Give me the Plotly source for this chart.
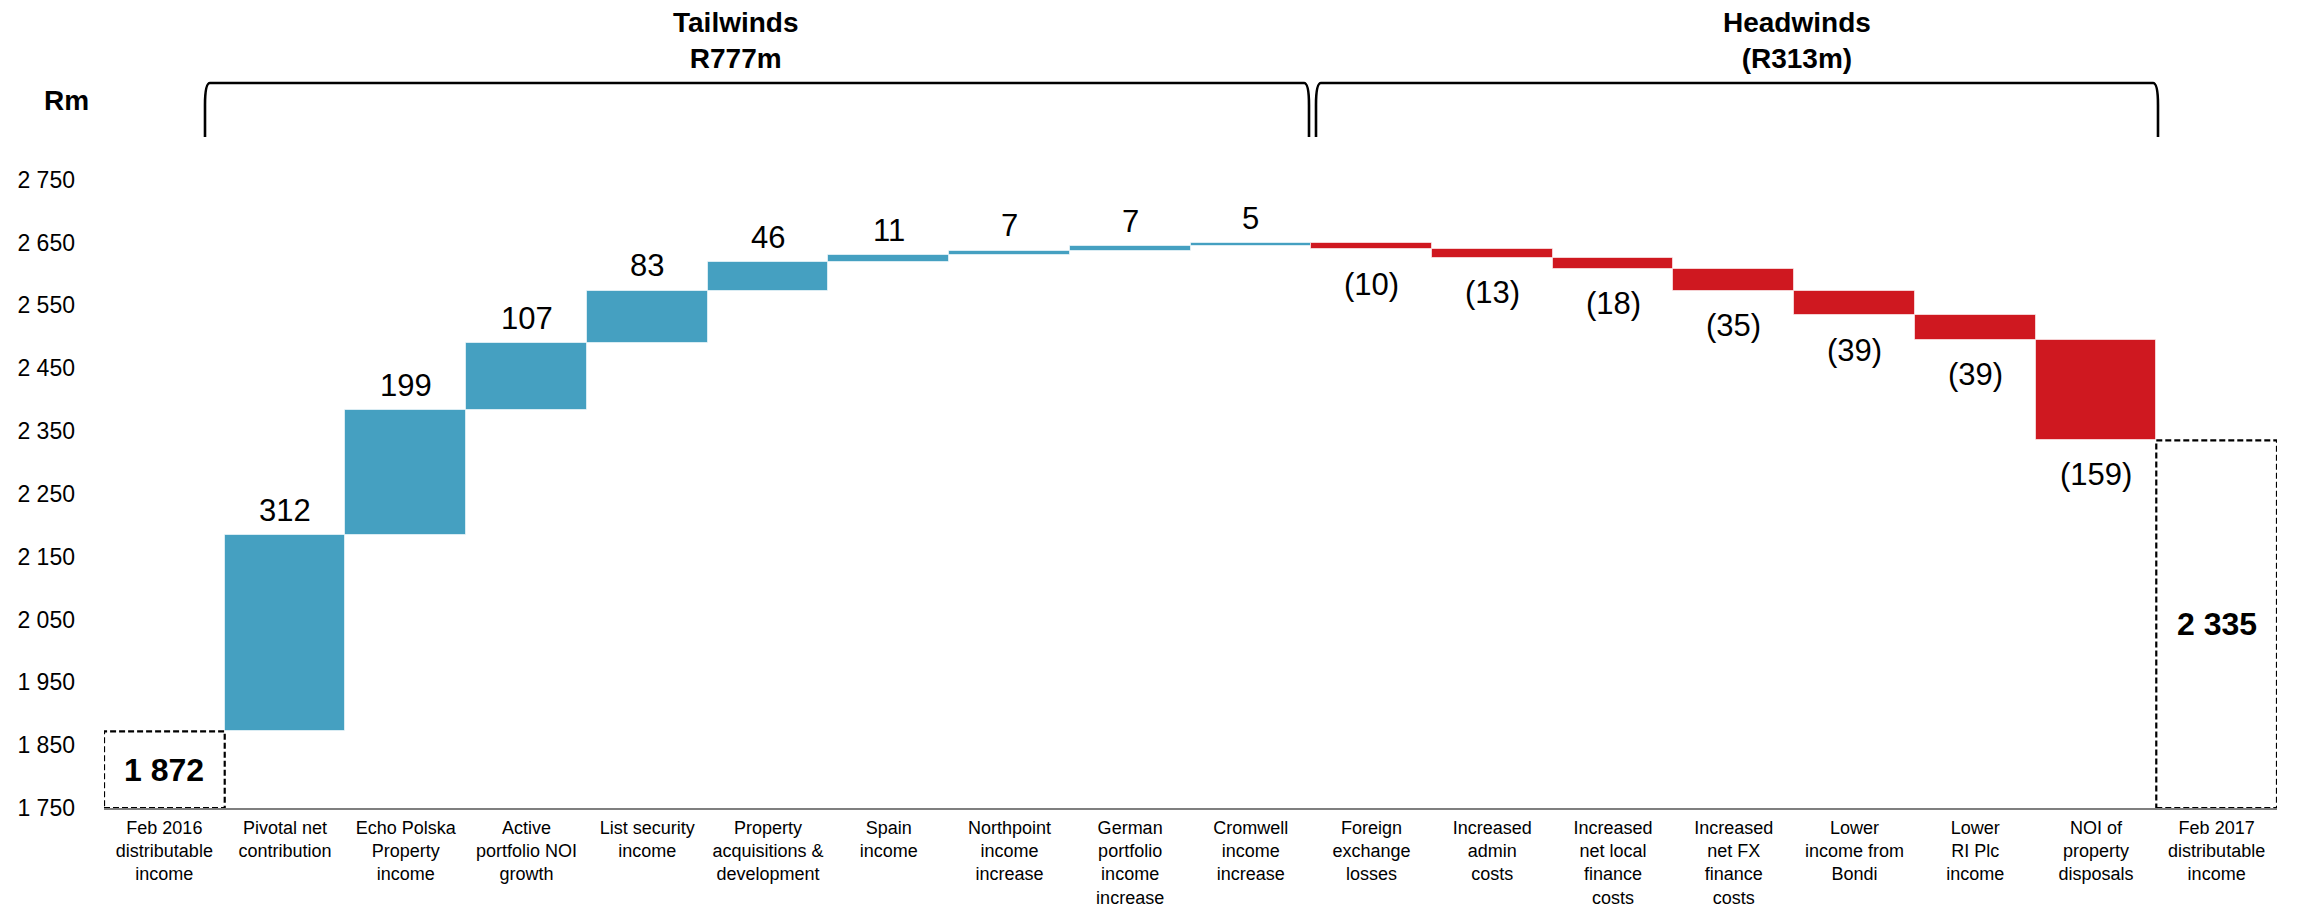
import plotly.graph_objects as go

# ---- data -------------------------------------------------------------
categories = [
    "Feb 2016<br>distributable<br>income",
    "Pivotal net<br>contribution",
    "Echo Polska<br>Property<br>income",
    "Active<br>portfolio NOI<br>growth",
    "List security<br>income",
    "Property<br>acquisitions &<br>development",
    "Spain<br>income",
    "Northpoint<br>income<br>increase",
    "German<br>portfolio<br>income<br>increase",
    "Cromwell<br>income<br>increase",
    "Foreign<br>exchange<br>losses",
    "Increased<br>admin<br>costs",
    "Increased<br>net local<br>finance<br>costs",
    "Increased<br>net FX<br>finance<br>costs",
    "Lower<br>income from<br>Bondi",
    "Lower<br>RI Plc<br>income",
    "NOI of<br>property<br>disposals",
    "Feb 2017<br>distributable<br>income",
]
start_value = 1872
end_value = 2335
changes = [312, 199, 107, 83, 46, 11, 7, 7, 5,
           -10, -13, -18, -35, -39, -39, -159]
y_ticks = [1750, 1850, 1950, 2050, 2150, 2250, 2350, 2450, 2550, 2650, 2750]

# ---- styling ----------------------------------------------------------
BLUE = "#45A0C1"
RED = "#CF1820"
FONT = "Liberation Sans, Arial, Helvetica, sans-serif"
W, H = 2298, 912
ML, MR, MT, MB = 104, 21, 0, 104
Y_MIN, Y_MAX = 1750, 3036


def fmt(v):
    return f"{v:,}".replace(",", " ")


def px_x(p):
    return (p - ML) / (W - ML - MR)


def px_y(p):
    return (H - MB - p) / (H - MT - MB)


# ---- floating bars ----------------------------------------------------
xs, bases, heights, colors = [], [], [], []
level = start_value
for i, c in enumerate(changes, start=1):
    xs.append(i)
    if c >= 0:
        bases.append(level)
        heights.append(c)
        colors.append(BLUE)
    else:
        bases.append(level + c)
        heights.append(-c)
        colors.append(RED)
    level += c

fig = go.Figure()
fig.add_trace(go.Bar(
    x=xs, y=heights, base=bases, width=1.0,
    marker=dict(color=colors, line=dict(color="rgba(255,255,255,0.6)", width=1)),
    hoverinfo="skip",
))

annotations = []
for x, b, h, c in zip(xs, bases, heights, changes):
    if c >= 0:
        annotations.append(dict(x=x, y=b + h, yshift=25, text=str(c)))
    else:
        annotations.append(dict(x=x, y=b, yshift=-35, text=f"({-c})"))
for a in annotations:
    a.update(xref="x", yref="y", showarrow=False, xanchor="center", yanchor="middle",
             font=dict(family=FONT, size=31, color="#000"))

# ---- dashed total boxes -----------------------------------------------
for idx, val in [(0, start_value), (len(categories) - 1, end_value)]:
    fig.add_trace(go.Scatter(
        x=[idx - 0.5, idx + 0.5, idx + 0.5, idx - 0.5, idx - 0.5],
        y=[Y_MIN, Y_MIN, val, val, Y_MIN],
        mode="lines", cliponaxis=False, hoverinfo="skip",
        line=dict(color="#000", width=2.2, dash="6px,3px"),
    ))
    annotations.append(dict(
        x=idx, y=(Y_MIN + val) / 2, xref="x", yref="y", showarrow=False,
        xanchor="center", yanchor="middle",
        text=f"<b>{fmt(val)}</b>", font=dict(family=FONT, size=32, color="#000"),
    ))

# ---- group brackets and headings --------------------------------------
tail_total = sum(c for c in changes if c > 0)
head_total = -sum(c for c in changes if c < 0)


def bracket(xa, xb, ytop=83, ybot=137, r=5, curve=22):
    p = (
        f"M {px_x(xa)},{px_y(ybot)} L {px_x(xa)},{px_y(ytop + curve)} "
        f"Q {px_x(xa)},{px_y(ytop)} {px_x(xa + r)},{px_y(ytop)} "
        f"L {px_x(xb - r)},{px_y(ytop)} "
        f"Q {px_x(xb)},{px_y(ytop)} {px_x(xb)},{px_y(ytop + curve)} "
        f"L {px_x(xb)},{px_y(ybot)}"
    )
    return dict(type="path", path=p, xref="paper", yref="paper",
                line=dict(color="#000", width=2.6))


shapes = [bracket(205, 1309), bracket(1316, 2158)]

for cx, text in [(736, f"<b>Tailwinds</b><br><b>R{tail_total}m</b>"),
                 (1797, f"<b>Headwinds</b><br><b>(R{head_total}m)</b>")]:
    annotations.append(dict(
        x=px_x(cx), y=px_y(40), xref="paper", yref="paper", showarrow=False,
        xanchor="center", yanchor="middle", text=text,
        font=dict(family=FONT, size=28, color="#000"),
    ))
annotations.append(dict(
    x=px_x(66), y=px_y(100), xref="paper", yref="paper", showarrow=False,
    xanchor="center", yanchor="middle",
    text="<b>Rm</b>", font=dict(family=FONT, size=28, color="#000"),
))

fig.update_layout(
    width=W, height=H,
    margin=dict(l=ML, r=MR, t=MT, b=MB),
    paper_bgcolor="white", plot_bgcolor="white",
    showlegend=False, bargap=0,
    font=dict(family=FONT, color="#000"),
    shapes=shapes, annotations=annotations,
    xaxis=dict(
        range=[-0.5, len(categories) - 0.5], automargin=False,
        tickmode="array", tickvals=list(range(len(categories))), ticktext=categories,
        tickfont=dict(family=FONT, size=18, color="#000"),
        showline=True, linecolor="#7f7f7f", linewidth=2,
        showgrid=False, zeroline=False, ticks="", ticklabelstandoff=2,
    ),
    yaxis=dict(
        range=[Y_MIN, Y_MAX], automargin=False,
        tickmode="array", tickvals=y_ticks, ticktext=[fmt(v) for v in y_ticks],
        tickfont=dict(family=FONT, size=23, color="#000"),
        showline=False, showgrid=False, zeroline=False, ticks="",
        ticklabelstandoff=28,
    ),
)

fig.write_html("out.html")
